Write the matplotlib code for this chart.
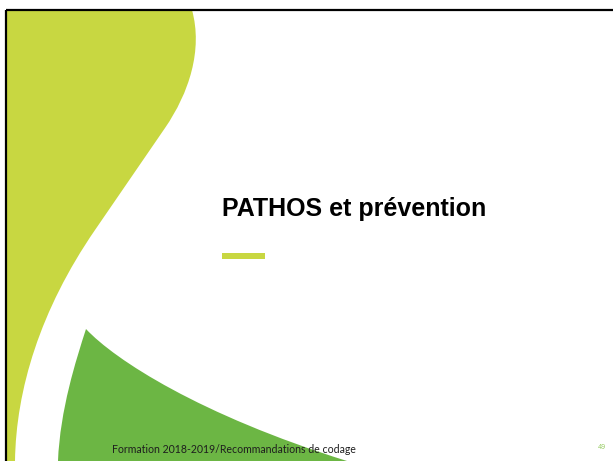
import matplotlib
matplotlib.use("Agg")
import matplotlib.pyplot as plt
from matplotlib.path import Path
from matplotlib.patches import PathPatch, Rectangle

W, H = 613, 461

title = "PATHOS et prévention"
footer = "Formation 2018-2019/Recommandations de codage"
page_no = "49"

lime = "#C8D741"
green = "#6CB644"

# lime wave outline (pixel coords, y downwards): bulge, straight run, bend
lime_verts = [(7, 10), (192, 10),
              (203, 50), (189, 93), (165, 128),
              (95, 230),
              (40, 310), (16, 390), (15, 461),
              (7, 461), (7, 10)]
lime_codes = [Path.MOVETO, Path.LINETO,
              Path.CURVE4, Path.CURVE4, Path.CURVE4,
              Path.LINETO,
              Path.CURVE4, Path.CURVE4, Path.CURVE4,
              Path.LINETO, Path.CLOSEPOLY]

# green leaf at the bottom
green_verts = [(86, 329),
               (115, 360), (200, 415), (347, 461),
               (347, 470), (58, 470), (58, 461),
               (60, 410), (76, 360), (86, 329),
               (86, 329)]
green_codes = [Path.MOVETO,
               Path.CURVE4, Path.CURVE4, Path.CURVE4,
               Path.LINETO, Path.LINETO, Path.LINETO,
               Path.CURVE4, Path.CURVE4, Path.CURVE4,
               Path.CLOSEPOLY]

fig = plt.figure(figsize=(W / 100, H / 100), dpi=100)
ax = fig.add_axes([0, 0, 1, 1])
ax.set_xlim(0, W)
ax.set_ylim(H, 0)
ax.axis("off")

ax.add_patch(PathPatch(Path(lime_verts, lime_codes), facecolor=lime, edgecolor="none"))
ax.add_patch(PathPatch(Path(green_verts, green_codes), facecolor=green, edgecolor="none"))

# slide frame (top and left edges visible)
ax.plot([6, W], [10, 10], color="black", lw=1.6, solid_capstyle="butt")
ax.plot([6, 6], [10, H], color="black", lw=1.6, solid_capstyle="butt")

ax.text(222, 216, title, fontsize=18, fontweight="bold", family="Liberation Sans",
        color="black", va="baseline", ha="left")
ax.add_patch(Rectangle((222, 253), 43, 6, facecolor=lime, edgecolor="none"))

ax.text(112, 453, footer, fontsize=7.6, family="Lato", color="#1e1e1e",
        va="baseline", ha="left")
ax.text(606, 449, page_no, fontsize=5, family="Open Sans", color="#8CC653",
        va="baseline", ha="right")

fig.savefig("out.png", dpi=100)
